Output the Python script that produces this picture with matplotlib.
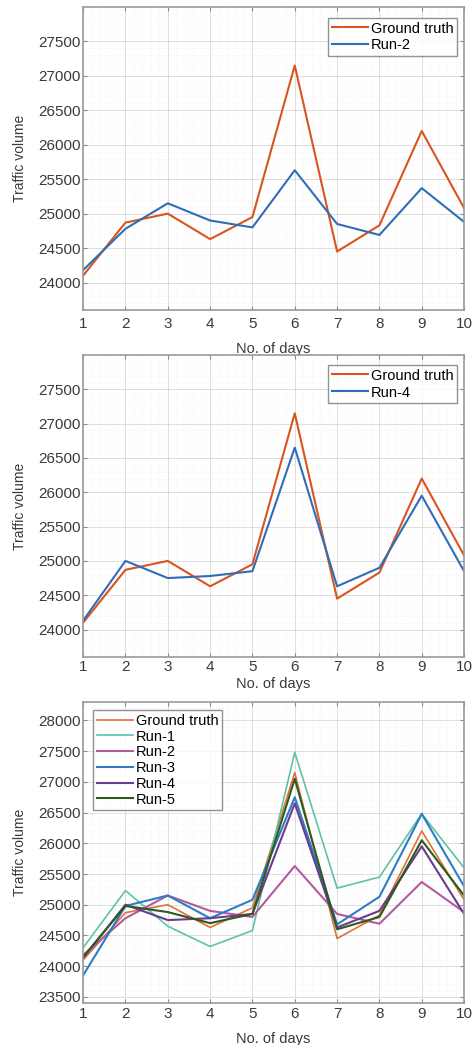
import matplotlib
matplotlib.use("Agg")
import matplotlib.pyplot as plt
from matplotlib.ticker import AutoMinorLocator

plt.rcParams['font.family'] = ['Liberation Sans', 'DejaVu Sans']

days = [1, 2, 3, 4, 5, 6, 7, 8, 9, 10]
ground_truth = [24100, 24870, 25000, 24630, 24950, 27150, 24450, 24830, 26200, 25080]
run1 = [24300, 25230, 24650, 24320, 24580, 27480, 25270, 25450, 26480, 25600]
run2 = [24180, 24780, 25150, 24900, 24800, 25630, 24850, 24690, 25370, 24880]
run3 = [23850, 24980, 25150, 24780, 25080, 26750, 24680, 25130, 26480, 25300]
run4 = [24130, 25000, 24750, 24780, 24850, 26650, 24630, 24900, 25950, 24850]
run5 = [24150, 24980, 24880, 24700, 24850, 27050, 24600, 24800, 26050, 25150]

yticks_12 = [24000, 24500, 25000, 25500, 26000, 26500, 27000, 27500]
yticks_3 = [23500, 24000, 24500, 25000, 25500, 26000, 26500, 27000, 27500, 28000]

c_gt = '#d9541e'
c_blue = '#2f6db8'
txt = '#3a3a3a'

fig = plt.figure(figsize=(4.75, 10.45), dpi=100)


def style(ax, ylim, yticks, xpad, xlabelpad):
    ax.set_xlim(1, 10)
    ax.set_ylim(*ylim)
    ax.set_xticks(days)
    ax.set_yticks(yticks)
    ax.xaxis.set_minor_locator(AutoMinorLocator(5))
    ax.yaxis.set_minor_locator(AutoMinorLocator(5))
    ax.grid(True, which='major', color='#d8d8d8', lw=0.6)
    ax.grid(True, which='minor', color='#ececec', lw=0.4, ls=':')
    ax.set_axisbelow(True)
    for s in ax.spines.values():
        s.set_color('#9a9a9a')
        s.set_linewidth(1.2)
    ax.tick_params(direction='in', top=True, right=True, length=3, color='#888888',
                   labelsize=11, labelcolor=txt)
    ax.tick_params(axis='x', pad=xpad)
    ax.tick_params(axis='y', pad=2)
    ax.tick_params(which='minor', length=0)
    ax.set_xlabel('No. of days', fontsize=10.5, color=txt, labelpad=xlabelpad)
    ax.set_ylabel('Traffic volume', fontsize=10, color=txt, labelpad=8)


leg_kw = dict(fontsize=10.5, frameon=True, fancybox=False, edgecolor='#777777',
              handlelength=2.5, handletextpad=0.2, borderpad=0.25,
              borderaxespad=0.0)

ax1 = fig.add_axes([0.175, 0.7033, 0.802, 0.290])
ax1.plot(days, ground_truth, color=c_gt, lw=1.5, label='Ground truth')
ax1.plot(days, run2, color=c_blue, lw=1.5, label='Run-2')
style(ax1, (23600, 28000), yticks_12, 5, 8)
ax1.legend(loc='upper right', bbox_to_anchor=(0.982, 0.964), labelspacing=0.2, **leg_kw)

ax2 = fig.add_axes([0.175, 0.3713, 0.802, 0.289])
ax2.plot(days, ground_truth, color=c_gt, lw=1.5, label='Ground truth')
ax2.plot(days, run4, color=c_blue, lw=1.5, label='Run-4')
style(ax2, (23600, 28000), yticks_12, 2, 2)
ax2.legend(loc='upper right', bbox_to_anchor=(0.982, 0.967), labelspacing=0.2, **leg_kw)

ax3 = fig.add_axes([0.175, 0.0402, 0.802, 0.288])
ax3.plot(days, ground_truth, color='#e0703a', lw=1.2, label='Ground truth')
ax3.plot(days, run1, color='#5cc4a4', lw=1.2, label='Run-1')
ax3.plot(days, run2, color='#b45a9c', lw=1.5, label='Run-2')
ax3.plot(days, run3, color='#2e7cc4', lw=1.5, label='Run-3')
ax3.plot(days, run4, color='#6a3b8e', lw=1.5, label='Run-4')
ax3.plot(days, run5, color='#2d5a1e', lw=1.5, label='Run-5')
style(ax3, (23400, 28300), yticks_3, 3, 8)
ax3.legend(loc='upper left', bbox_to_anchor=(0.026, 0.973), labelspacing=0.12, **leg_kw)

fig.savefig('out.png', dpi=100)
